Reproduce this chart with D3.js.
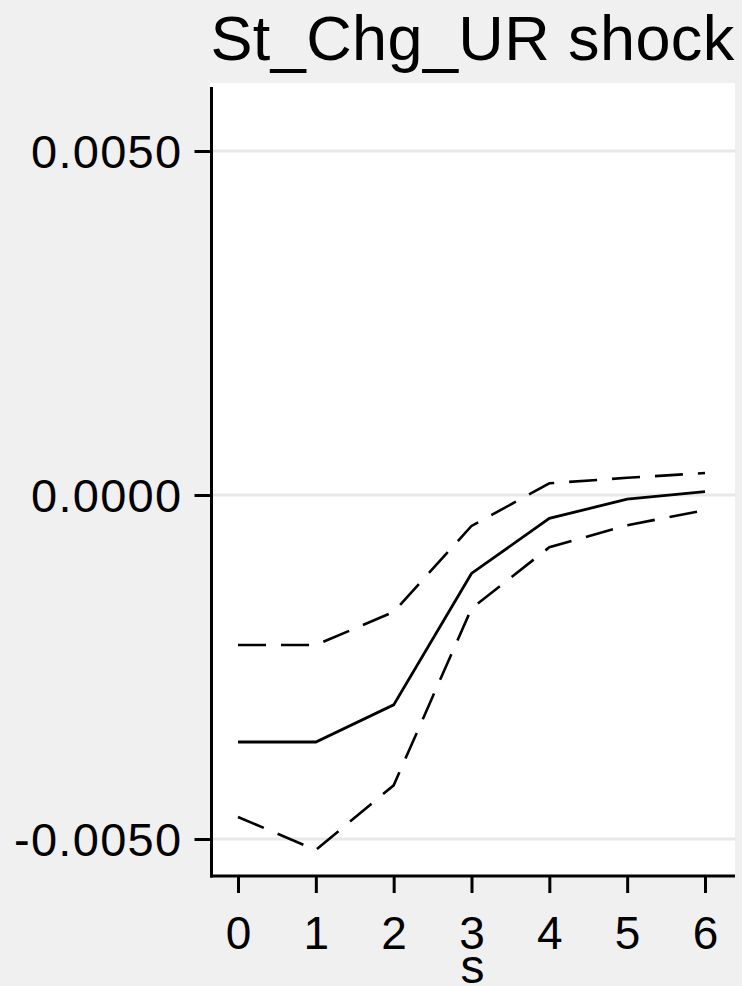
<!DOCTYPE html>
<html>
<head>
<meta charset="utf-8">
<script src="https://cdn.jsdelivr.net/npm/d3@7"></script>
<style>
  html, body { margin: 0; padding: 0; background: #f0f0f0; }
  svg { display: block; font-family: "Liberation Sans", Arial, sans-serif; }
</style>
</head>
<body>
<svg id="chart" width="742" height="986"></svg>
<script>
// Impulse response of St_Chg_UR shock with confidence band
const steps = [0, 1, 2, 3, 4, 5, 6];
const irf   = [-0.00359, -0.00359, -0.00305, -0.00114, -0.00034, -0.00006, 0.00005];
const upper = [-0.00218, -0.00218, -0.00170, -0.00045, 0.00017, 0.00025, 0.00032];
const lower = [-0.00468, -0.00516, -0.00422, -0.00165, -0.00076, -0.00044, -0.00022];
const yTicks = [-0.005, 0, 0.005];
const xTicks = [0, 1, 2, 3, 4, 5, 6];
const title = "St_Chg_UR shock";
const xLabel = "s";

const svg = d3.select("#chart");
const plot = { left: 210, right: 735, top: 83, bottom: 876 };

const x = d3.scaleLinear().domain([0, 6]).range([238, 705]);
const y = d3.scaleLinear().domain([-0.005, 0.005]).range([839, 151]);

// plot region
svg.append("rect")
  .attr("x", plot.left).attr("y", plot.top)
  .attr("width", plot.right - plot.left).attr("height", plot.bottom - plot.top)
  .attr("fill", "#ffffff");

// horizontal gridlines
svg.append("g").selectAll("line").data(yTicks).join("line")
  .attr("x1", plot.left).attr("x2", plot.right)
  .attr("y1", d => y(d)).attr("y2", d => y(d))
  .attr("stroke", "#e8e8e8").attr("stroke-width", 3);

// y axis
const yAxis = svg.append("g")
  .attr("transform", `translate(${plot.left + 1.5},0)`)
  .call(d3.axisLeft(y).tickValues(yTicks).tickFormat(d3.format(".4f")).tickSize(17).tickSizeOuter(0).tickPadding(12));
yAxis.select(".domain").remove();
yAxis.append("line")
  .attr("x1", 0).attr("x2", 0).attr("y1", plot.top + 4).attr("y2", plot.bottom + 1.5)
  .attr("stroke", "#000").attr("stroke-width", 3);
yAxis.selectAll(".tick line").attr("stroke", "#000").attr("stroke-width", 3);
yAxis.selectAll(".tick text")
  .attr("fill", "#000").attr("font-size", 47).attr("dy", "0.35em")
  .attr("letter-spacing", 1.3)
  .text(d => d3.format(".4f")(d).replace("−", "-"));

// x axis
const xAxis = svg.append("g")
  .attr("transform", `translate(0,${plot.bottom})`)
  .call(d3.axisBottom(x).tickValues(xTicks).tickFormat(d3.format("d")).tickSize(17).tickSizeOuter(0).tickPadding(23));
xAxis.select(".domain").remove();
xAxis.append("line")
  .attr("x1", plot.left).attr("x2", plot.right).attr("y1", 0).attr("y2", 0)
  .attr("stroke", "#000").attr("stroke-width", 3);
xAxis.selectAll(".tick line").attr("stroke", "#000").attr("stroke-width", 3);
xAxis.selectAll(".tick text").attr("fill", "#000").attr("font-size", 46);

// lines
const line = d3.line().x((d, i) => x(steps[i])).y(d => y(d));
svg.append("path").datum(upper).attr("d", line)
  .attr("fill", "none").attr("stroke", "#000").attr("stroke-width", 2.6)
  .attr("stroke-dasharray", "28,15");
svg.append("path").datum(lower).attr("d", line)
  .attr("fill", "none").attr("stroke", "#000").attr("stroke-width", 2.6)
  .attr("stroke-dasharray", "28,15");
svg.append("path").datum(irf).attr("d", line)
  .attr("fill", "none").attr("stroke", "#000").attr("stroke-width", 2.8);

// title and axis label
svg.append("text")
  .attr("x", (plot.left + plot.right) / 2).attr("y", 60)
  .attr("text-anchor", "middle").attr("font-size", 63).attr("fill", "#000")
  .attr("letter-spacing", 0.4)
  .text(title);
svg.append("text")
  .attr("x", (plot.left + plot.right) / 2).attr("y", 983)
  .attr("text-anchor", "middle").attr("font-size", 48).attr("fill", "#000")
  .text(xLabel);
</script>
</body>
</html>
